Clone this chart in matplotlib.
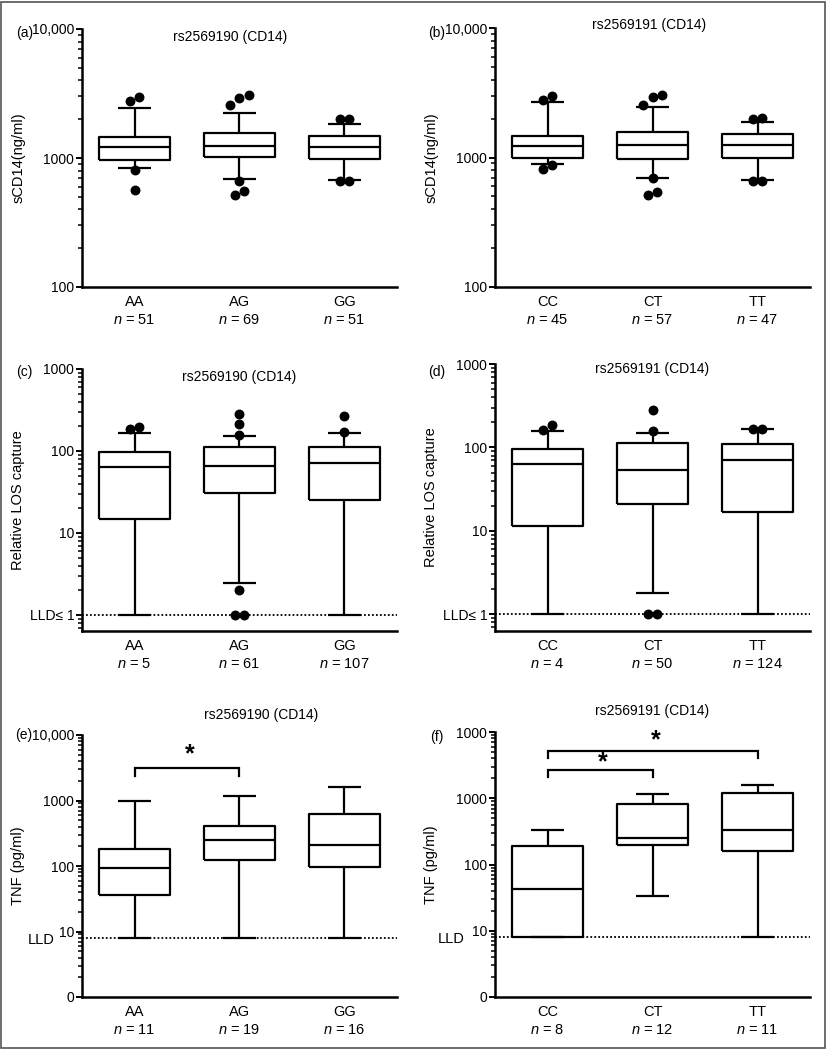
import numpy as np
import matplotlib
matplotlib.use("Agg")
import matplotlib.pyplot as plt
from matplotlib.ticker import NullFormatter, FixedLocator, NullLocator
from matplotlib.patches import Rectangle
import matplotlib.transforms as mtrans

plt.rcParams['font.family'] = ['Liberation Sans', 'DejaVu Sans']
plt.rcParams['mathtext.fontset'] = 'custom'
plt.rcParams['mathtext.rm'] = 'Liberation Sans'
plt.rcParams['mathtext.it'] = 'Liberation Sans:italic'

# ---------------- data ----------------
a_groups = ['AA', 'AG', 'GG']; a_n = [51, 69, 51]
a_q1 = [971, 1018, 988]; a_med = [1217, 1232, 1210]; a_q3 = [1456, 1563, 1472]
a_lo = [836, 692, 671]; a_hi = [2443, 2245, 1836]
a_out = [[2747, 2970, 802, 561], [3060, 2939, 2558, 659, 552, 520], [2018, 1995, 659, 659]]

b_groups = ['CC', 'CT', 'TT']; b_n = [45, 57, 47]
b_q1 = [1000, 966, 983]; b_med = [1231, 1253, 1246]; b_q3 = [1462, 1579, 1506]
b_lo = [888, 700, 668]; b_hi = [2692, 2449, 1888]
b_out = [[2998, 2773, 877, 813], [3054, 2947, 2540, 692, 546, 514], [2013, 1991, 656, 656]]

c_groups = ['AA', 'AG', 'GG']; c_n = [5, 61, 107]
c_q1 = [15, 30.3, 24.9]; c_med = [63, 65.5, 70.6]; c_q3 = [96, 113, 113]
c_lo = [1, 2.42, 1]; c_hi = [168, 154, 168]
c_out = [[186, 195], [281, 214, 155, 1.99, 1, 1], [268, 172]]

d_groups = ['CC', 'CT', 'TT']; d_n = [4, 50, 124]
d_q1 = [11.4, 20.7, 16.8]; d_med = [63, 53.8, 70.3]; d_q3 = [94.6, 113, 110]
d_lo = [1, 1.79, 1]; d_hi = [159, 149, 165]
d_out = [[162, 186], [284, 159, 1, 1], [166, 166]]

e_groups = ['AA', 'AG', 'GG']; e_n = [11, 19, 16]
e_q1 = [35.8, 122, 96.6]; e_med = [93, 251, 211]; e_q3 = [179, 415, 617]
e_lo = [8, 8, 8]; e_hi = [1000, 1156, 1585]
e_out = [[], [], []]

f_groups = ['CC', 'CT', 'TT']; f_n = [8, 12, 11]
f_q1 = [8, 200, 159]; f_med = [42, 247, 330]; f_q3 = [193, 822, 1202]
f_lo = [8, 33.7, 8]; f_hi = [337, 1175, 1570]
f_out = [[], [], []]

lld_cd = 1
lld_ef = 8
# comparisons: (group i, group j, bracket height, star height)
e_sig = [(0, 1, 3080, 5000)]
f_sig = [(0, 1, 2700, 3500), (0, 2, 5235, 7400)]

title_190 = 'rs2569190 (CD14)'
title_191 = 'rs2569191 (CD14)'

# ---------------- figure ----------------
W, H = 826, 1050
fig = plt.figure(figsize=(W / 100, H / 100), dpi=100)
fig.patch.set_facecolor('white')
fig.add_artist(Rectangle((0.0015, 0.0015), 0.997, 0.997, transform=fig.transFigure,
                         fill=False, edgecolor='#555555', lw=1.2))

LW = 1.6
MS_PX = 8.5
MINOR_PX = 4.0


def px_axes(l, r, t, b):
    return fig.add_axes([l / W, 1 - b / H, (r - l) / W, (b - t) / H])


def log_minors(lo, hi):
    ticks = []
    for e in range(int(np.floor(np.log10(lo))) - 1, int(np.ceil(np.log10(hi))) + 1):
        for s in range(2, 10):
            v = s * 10.0 ** e
            if lo <= v <= hi:
                ticks.append(v)
    return ticks


def draw_panel(ax, groups, ns, q1, med, q3, lo, hi, outs, ylim, yticks, yticklabels, ylabel):
    stats = []
    for i in range(len(groups)):
        stats.append(dict(med=med[i], q1=q1[i], q3=q3[i], whislo=lo[i], whishi=hi[i], fliers=[]))
    pos = np.arange(len(groups))
    ax.set_yscale('log')
    ax.set_ylim(*ylim)
    ax.set_xlim(-0.5, len(groups) - 0.5)
    lp = dict(color='black', lw=LW, solid_capstyle='butt')
    ax.bxp(stats, positions=pos, widths=0.67, capwidths=0.32, showfliers=False,
           boxprops=lp, whiskerprops=lp, capprops=lp, medianprops=lp,
           manage_ticks=False, zorder=3)
    # outliers, dodged side by side when they would overlap
    bb = ax.get_window_extent()
    px_per_dec = bb.height / (np.log10(ylim[1]) - np.log10(ylim[0]))
    px_per_unit = bb.width / len(groups)
    dx = (MS_PX * 1.1) / px_per_unit
    for i, vals in enumerate(outs):
        if not vals:
            continue
        v = np.sort(np.array(vals, dtype=float))
        lv = np.log10(v) * px_per_dec
        clusters = [[0]]
        for k in range(1, len(v)):
            if lv[k] - lv[clusters[-1][-1]] < MS_PX:
                clusters[-1].append(k)
            else:
                clusters.append([k])
        for cl in clusters:
            m = len(cl)
            for j, k in enumerate(cl):
                ax.plot(pos[i] + (j - (m - 1) / 2) * dx, v[k], 'o', color='black',
                        ms=MS_PX / 1.389, zorder=4, clip_on=False)
    ax.set_xticks(pos)
    ax.set_xticklabels([f'{g}\n$\\it{{n}}$ = {n}' for g, n in zip(groups, ns)],
                       fontsize=10.5, linespacing=1.35)
    ax.tick_params(axis='x', which='both', length=0, pad=6)
    ax.yaxis.set_major_locator(FixedLocator(yticks))
    ax.set_yticklabels(yticklabels, fontsize=10)
    ax.yaxis.set_minor_locator(NullLocator())
    ax.yaxis.set_minor_formatter(NullFormatter())
    ax.yaxis.set_tick_params(which='major', length=4, width=1.4, pad=1.5, color='black')
    # minor log ticks drawn as short outward marks on the y axis
    tr = mtrans.blended_transform_factory(ax.transAxes, ax.transData)
    ax.hlines(log_minors(*ylim), -MINOR_PX / bb.width, 0, transform=tr, colors='black',
              lw=1.1, clip_on=False, zorder=5)
    for s in ['top', 'right']:
        ax.spines[s].set_visible(False)
    for s in ['left', 'bottom']:
        ax.spines[s].set_linewidth(1.8)
    ax.set_ylabel(ylabel, fontsize=10.5)
    ax.yaxis.set_label_coords(-0.18, 0.5)


def add_sig(ax, sigs):
    for i, j, y, ys in sigs:
        ax.plot([i, i, j, j], [y * 0.77, y, y, y * 0.77], color='black', lw=1.6,
                solid_joinstyle='miter', zorder=3)
        ax.text((i + j) / 2 + 0.03, ys, '*', ha='center', va='center',
                fontsize=18, fontweight='bold')


def add_lld(ax, lld, text=None, offs=-0.09):
    ax.axhline(lld, color='black', ls=(0, (1, 1.2)), lw=1.3, zorder=1)
    if text:
        tr = mtrans.blended_transform_factory(ax.transAxes, ax.transData)
        ax.text(offs, lld * 0.93, text, transform=tr, ha='right', va='center', fontsize=10.5)


# (a)
axa = px_axes(82, 397, 29, 287)
draw_panel(axa, a_groups, a_n, a_q1, a_med, a_q3, a_lo, a_hi, a_out, (100, 10000),
           [100, 1000, 10000], ['100', '1000', '10,000'], 'sCD14(ng/ml)')
axa.text(0.47, 0.97, title_190, transform=axa.transAxes, ha='center', va='center', fontsize=10)
# (b)
axb = px_axes(495, 810, 28, 287)
draw_panel(axb, b_groups, b_n, b_q1, b_med, b_q3, b_lo, b_hi, b_out, (100, 10000),
           [100, 1000, 10000], ['100', '1000', '10,000'], 'sCD14(ng/ml)')
axb.text(0.49, 1.01, title_191, transform=axb.transAxes, ha='center', va='center', fontsize=10)
# (c)
axc = px_axes(82, 397, 369, 631)
draw_panel(axc, c_groups, c_n, c_q1, c_med, c_q3, c_lo, c_hi, c_out, (0.637, 1000),
           [1, 10, 100, 1000], ['LLD≤ 1', '10', '100', '1000'], 'Relative LOS capture')
add_lld(axc, lld_cd)
axc.text(0.5, 0.97, title_190, transform=axc.transAxes, ha='center', va='center', fontsize=10)
# (d)
axd = px_axes(495, 810, 364, 631)
draw_panel(axd, d_groups, d_n, d_q1, d_med, d_q3, d_lo, d_hi, d_out, (0.63, 1000),
           [1, 10, 100, 1000], ['LLD≤ 1', '10', '100', '1000'], 'Relative LOS capture')
add_lld(axd, lld_cd)
axd.text(0.5, 0.98, title_191, transform=axd.transAxes, ha='center', va='center', fontsize=10)
# (e)
axe = px_axes(82, 397, 735, 997)
draw_panel(axe, e_groups, e_n, e_q1, e_med, e_q3, e_lo, e_hi, e_out, (1, 10000),
           [1, 10, 100, 1000, 10000], ['0', '10', '100', '1000', '10,000'], 'TNF (pg/ml)')
add_lld(axe, lld_ef, 'LLD', offs=-0.088)
add_sig(axe, e_sig)
axe.text(0.57, 1.077, title_190, transform=axe.transAxes, ha='center', va='center', fontsize=10)
# (f)
axf = px_axes(495, 810, 732, 997)
draw_panel(axf, f_groups, f_n, f_q1, f_med, f_q3, f_lo, f_hi, f_out, (1, 10000),
           [1, 10, 100, 1000, 10000], ['0', '10', '100', '1000', '1000'], 'TNF (pg/ml)')
add_lld(axf, lld_ef, 'LLD', offs=-0.095)
add_sig(axf, f_sig)
axf.text(0.5, 1.08, title_191, transform=axf.transAxes, ha='center', va='center', fontsize=10)

# panel letters
for lab, x, y in [('(a)', 16, 33), ('(b)', 428, 33), ('(c)', 16, 372), ('(d)', 428, 372),
                  ('(e)', 15, 735), ('(f)', 430, 737)]:
    fig.text(x / W, 1 - y / H, lab, ha='left', va='center', fontsize=10)

fig.savefig('out.png', dpi=100, facecolor='white')
